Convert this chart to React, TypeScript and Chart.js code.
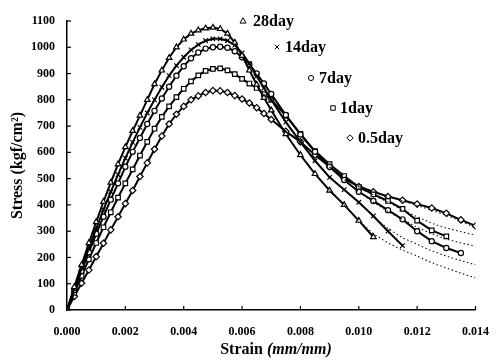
import React, { useEffect, useRef } from 'react';
import { Chart, registerables } from 'chart.js';

Chart.register(...registerables);

// Strain grid (mm/mm) shared by the measured series
const STRAIN = [
  0, 0.00025, 0.0005, 0.00075, 0.001, 0.00125, 0.0015, 0.00175, 0.002, 0.00225,
  0.0025, 0.00275, 0.003, 0.00325, 0.0035, 0.00375, 0.004, 0.00425, 0.0045, 0.00475,
  0.005, 0.00525, 0.0055, 0.00575, 0.006, 0.00625, 0.0065, 0.00675, 0.007,
  0.0075, 0.008, 0.0085, 0.009, 0.0095, 0.01, 0.0105, 0.011, 0.0115, 0.012,
  0.0125, 0.013, 0.0135, 0.014,
];

// Measured stress (kgf/cm²)
const STRESS_28 = [0, 88, 172, 255, 335, 412, 485, 555, 620, 682, 740, 800, 860, 912, 960, 1000, 1030, 1052, 1065, 1072, 1075, 1070, 1052, 1018, 968, 912, 858, 808, 760,
  670, 590, 518, 455, 400, 340, 278];
const STRESS_14 = [0, 80, 158, 235, 310, 382, 450, 515, 578, 638, 695, 750, 800, 848, 892, 930, 962, 990, 1010, 1025, 1032, 1032, 1025, 1008, 978, 938, 890, 845, 800,
  715, 640, 568, 505, 458, 410, 358, 300, 245];
const STRESS_7 = [0, 75, 148, 220, 290, 355, 420, 482, 545, 602, 655, 708, 758, 805, 850, 892, 928, 958, 980, 995, 1000, 1002, 998, 985, 962, 935, 900, 862, 822,
  742, 668, 602, 545, 495, 450, 415, 380, 345, 300, 262, 236, 217];
const STRESS_1 = [0, 65, 130, 193, 255, 315, 372, 428, 482, 535, 588, 640, 690, 735, 775, 810, 842, 870, 893, 910, 918, 920, 912, 898, 880, 862, 845, 822, 800,
  740, 670, 605, 555, 510, 468, 440, 415, 385, 340, 303, 280];
const STRESS_05 = [0, 52, 102, 152, 203, 254, 305, 355, 405, 455, 508, 560, 612, 662, 708, 745, 775, 800, 815, 828, 835, 834, 828, 816, 803, 788, 770, 748, 725,
  680, 640, 590, 545, 500, 470, 450, 432, 418, 403, 388, 368, 343, 320];

// Fitted curves (dotted) in the post-peak tail
const FIT_STRAIN = [0.009, 0.0095, 0.01, 0.0105, 0.011, 0.0115, 0.012, 0.0125, 0.013, 0.0135, 0.014];
const FIT_28 = [455, 400, 340, 290, 255, 228, 205, 180, 160, 140, 122];
const FIT_14 = [505, 458, 410, 355, 310, 275, 250, 225, 205, 188, 172];
const FIT_7 = [545, 495, 450, 410, 375, 345, 315, 290, 270, 255, 243];
const FIT_1 = [555, 510, 468, 438, 410, 380, 355, 330, 312, 298, 285];
const FIT_05 = [545, 500, 470, 450, 432, 415, 398, 380, 360, 338, 312];

const SERIES_LABELS = ['28day', '14day', '7day', '1day', '0.5day'];
const X_TICKS = [0, 0.002, 0.004, 0.006, 0.008, 0.01, 0.012, 0.014];
const Y_MAX = 1100;

const FONT = "'Liberation Serif', 'DejaVu Serif', serif";

function drawMarker(ctx: CanvasRenderingContext2D, style: string, x: number, y: number, r: number) {
  ctx.beginPath();
  if (style === 'triangle') {
    ctx.moveTo(x, y - r);
    ctx.lineTo(x + r * 0.95, y + r * 0.65);
    ctx.lineTo(x - r * 0.95, y + r * 0.65);
    ctx.closePath();
    ctx.fill();
    ctx.stroke();
  } else if (style === 'crossRot') {
    ctx.moveTo(x - r * 0.7, y - r * 0.7);
    ctx.lineTo(x + r * 0.7, y + r * 0.7);
    ctx.moveTo(x + r * 0.7, y - r * 0.7);
    ctx.lineTo(x - r * 0.7, y + r * 0.7);
    ctx.stroke();
  } else if (style === 'circle') {
    ctx.arc(x, y, r * 0.8, 0, Math.PI * 2);
    ctx.fill();
    ctx.stroke();
  } else if (style === 'rect') {
    ctx.rect(x - r * 0.7, y - r * 0.7, r * 1.4, r * 1.4);
    ctx.fill();
    ctx.stroke();
  } else {
    ctx.moveTo(x, y - r);
    ctx.lineTo(x + r, y);
    ctx.lineTo(x, y + r);
    ctx.lineTo(x - r, y);
    ctx.closePath();
    ctx.fill();
    ctx.stroke();
  }
}

const STYLES = ['triangle', 'crossRot', 'circle', 'rect', 'rectRot'];

const decorPlugin = {
  id: 'decor',
  afterDraw(chart: any) {
    const ctx: CanvasRenderingContext2D = chart.ctx;
    const { left, bottom, top } = chart.chartArea;
    const xs = chart.scales.x;
    const ys = chart.scales.y;
    ctx.save();
    ctx.strokeStyle = '#000';
    ctx.fillStyle = '#000';
    ctx.lineWidth = 1.2;
    // inner tick marks
    xs.ticks.forEach((t: any) => {
      const px = xs.getPixelForValue(t.value);
      ctx.beginPath();
      ctx.moveTo(px, bottom);
      ctx.lineTo(px, bottom - 4);
      ctx.stroke();
    });
    ys.ticks.forEach((t: any) => {
      const py = ys.getPixelForValue(t.value);
      ctx.beginPath();
      ctx.moveTo(left, py);
      ctx.lineTo(left + 4, py);
      ctx.stroke();
    });

    // x-axis title: "Strain (mm/mm)"
    const part1 = 'Strain ';
    const part2 = '(mm/mm)';
    ctx.font = `bold 16px ${FONT}`;
    const w1 = ctx.measureText(part1).width;
    ctx.font = `italic bold 16px ${FONT}`;
    const w2 = ctx.measureText(part2).width;
    const cx = 276;
    const ty = bottom + 40;
    ctx.textBaseline = 'middle';
    ctx.textAlign = 'left';
    ctx.font = `bold 16px ${FONT}`;
    ctx.fillText(part1, cx - (w1 + w2) / 2, ty);
    ctx.font = `italic bold 16px ${FONT}`;
    ctx.fillText(part2, cx - (w1 + w2) / 2 + w1, ty);

    // staggered legend
    const legendPos = [
      [176, 0, 186],
      [210, 26, 218],
      [244, 57, 252],
      [266, 87, 273],
      [283, 117, 291],
    ];
    ctx.font = `bold 16px ${FONT}`;
    ctx.lineWidth = 1;
    SERIES_LABELS.forEach((lab, i) => {
      const [mx, my, tx] = legendPos[i];
      ctx.fillStyle = '#fff';
      ctx.strokeStyle = '#000';
      drawMarker(ctx, STYLES[i], left + mx, top + my, 3.2);
      ctx.fillStyle = '#000';
      ctx.fillText(lab, left + tx, top + my + 1);
    });
    ctx.restore();
  },
};

export default function App() {
  const ref = useRef<HTMLCanvasElement | null>(null);

  useEffect(() => {
    document.body.style.margin = '0';
    if (!ref.current) return;
    const measured = [STRESS_28, STRESS_14, STRESS_7, STRESS_1, STRESS_05];
    const fits = [FIT_28, FIT_14, FIT_7, FIT_1, FIT_05];
    const fitSets = fits.map((f, i) => ({
      label: SERIES_LABELS[i] + ' fit',
      data: f.map((v, k) => ({ x: FIT_STRAIN[k], y: v })),
      showLine: true,
      borderColor: '#111',
      borderWidth: 1.1,
      borderDash: [1.5, 2.5],
      pointRadius: 0,
      fill: false,
    }));
    const markSets = measured.map((s, i) => ({
      label: SERIES_LABELS[i],
      data: s.map((v, k) => ({ x: STRAIN[k], y: v })),
      showLine: true,
      borderColor: '#000',
      borderWidth: 2,
      pointStyle: STYLES[i],
      pointRadius: STYLES[i] === 'circle' ? 2.6 : 3.2,
      pointBorderWidth: 1.2,
      pointBorderColor: '#000',
      pointBackgroundColor: '#fff',
      fill: false,
    }));

    const chart = new Chart(ref.current, {
      type: 'scatter',
      data: { datasets: [...fitSets, ...markSets] as any },
      options: {
        animation: false,
        responsive: false,
        maintainAspectRatio: false,
        layout: { padding: { top: 21, right: 14, left: 0, bottom: 0 } },
        plugins: { legend: { display: false }, tooltip: { enabled: false } },
        scales: {
          x: {
            type: 'linear',
            min: 0,
            max: 0.014,
            afterBuildTicks: (scale: any) => {
              scale.ticks = X_TICKS.map((v) => ({ value: v }));
            },
            afterFit: (scale: any) => {
              scale.height = 53;
            },
            ticks: {
              callback: (v: any) => Number(v).toFixed(3),
              color: '#000',
              font: { family: FONT, size: 12, weight: 'bold' },
              padding: 15,
              maxRotation: 0,
            },
            grid: { display: true, drawOnChartArea: false, drawTicks: false },
            border: { display: true, color: '#000', width: 1.5 },
          },
          y: {
            type: 'linear',
            min: 0,
            max: Y_MAX,
            afterFit: (scale: any) => {
              scale.width = 67;
            },
            ticks: {
              stepSize: 100,
              callback: (v: any) => String(v),
              color: '#000',
              font: { family: FONT, size: 12, weight: 'bold' },
              padding: 12,
            },
            title: {
              display: true,
              text: 'Stress (kgf/cm²)',
              color: '#000',
              font: { family: FONT, size: 16, weight: 'bold' },
              padding: { top: 8, bottom: 0 },
            },
            grid: { display: true, drawOnChartArea: false, drawTicks: false },
            border: { display: true, color: '#000', width: 1.5 },
          },
        },
      },
      plugins: [decorPlugin],
    } as any);
    return () => chart.destroy();
  }, []);

  return (
    <div style={{ width: 504, height: 363, background: '#fff' }}>
      <canvas ref={ref} width={504} height={363} />
    </div>
  );
}
